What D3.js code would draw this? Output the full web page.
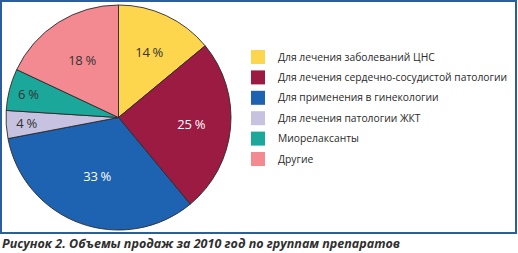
<!DOCTYPE html>
<html><head><meta charset="utf-8">
<script src="https://cdn.jsdelivr.net/npm/d3@7"></script>
<style>
html,body{margin:0;padding:0;background:#fff;}
svg{display:block;}
</style>
</head><body>
<svg id="c" width="518" height="253"></svg>
<script>
const categories = [
  "Для лечения заболеваний ЦНС",
  "Для лечения сердечно-сосудистой патологии",
  "Для применения в гинекологии",
  "Для лечения патологии ЖКТ",
  "Миорелаксанты",
  "Другие"
];
const values = [14, 25, 33, 4, 6, 18];
const valueLabels = ["14 %", "25 %", "33 %", "4 %", "6 %", "18 %"];
const colors = ["#fdd64e", "#9b1b42", "#1d63b1", "#c6c2e0", "#1ba89a", "#f38a91"];
const labelColors = ["#333", "#fff", "#fff", "#333", "#333", "#333"];
const labelRadius = [72, 73, 63, 92, 93, 68];
const caption = "Рисунок 2. Объемы продаж за 2010 год по группам препаратов";

const svg = d3.select("#c");
// frame
svg.append("rect").attr("x", 1).attr("y", 1).attr("width", 515).attr("height", 232)
  .attr("fill", "#fff").attr("stroke", "#2b5e9c").attr("stroke-width", 2);

const cx = 118.5, cy = 117.5, R = 112.5;
const pie = d3.pie().sort(null).value(d => d)(values);
const arc = d3.arc().innerRadius(0).outerRadius(R);
const g = svg.append("g").attr("transform", `translate(${cx},${cy})`);
g.selectAll("path").data(pie).join("path")
  .attr("d", arc)
  .attr("fill", (d, i) => colors[i])
  .attr("stroke", "#2a2a2a").attr("stroke-width", 0.9).attr("stroke-linejoin", "round");

g.selectAll("text.lab").data(pie).join("text")
  .attr("class", "lab")
  .attr("transform", (d, i) => {
    const a = (d.startAngle + d.endAngle) / 2;
    const r = labelRadius[i];
    return `translate(${r * Math.sin(a)},${-r * Math.cos(a)})`;
  })
  .attr("text-anchor", "middle").attr("dy", "0.35em")
  .attr("font-family", "'Open Sans', 'Noto Sans', sans-serif")
  .attr("font-size", 13).attr("letter-spacing", -0.3)
  .attr("fill", (d, i) => labelColors[i])
  .text((d, i) => valueLabels[i]);

// legend
const y0 = 50, step = 20.4;
const lg = svg.append("g");
categories.forEach((c, i) => {
  lg.append("rect").attr("x", 251).attr("y", y0 + i * step).attr("width", 14).attr("height", 14)
    .attr("fill", colors[i]);
  lg.append("text").attr("x", 278).attr("y", y0 + i * step + 7).attr("dy", "0.35em")
    .attr("font-family", "'Open Sans', 'Noto Sans', sans-serif")
    .attr("font-size", 10.3).attr("fill", "#2a2a2a").text(c);
});

svg.append("text").attr("x", 2).attr("y", 248)
  .attr("font-family", "'Open Sans', sans-serif")
  .attr("font-weight", "bold").attr("font-style", "italic")
  .attr("font-size", 12.5).attr("fill", "#2f2f2f")
  .attr("textLength", 398).attr("lengthAdjust", "spacingAndGlyphs")
  .text(caption);
</script>
</body></html>
